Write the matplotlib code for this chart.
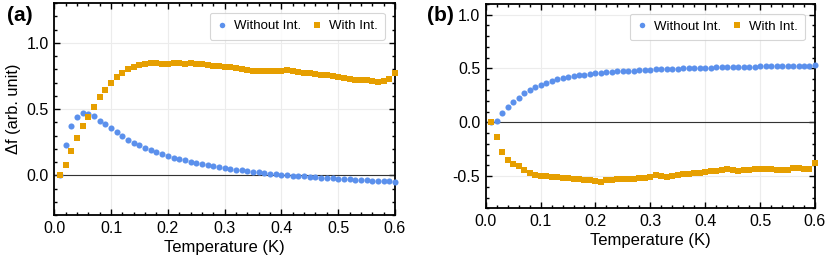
"""Frequency shift vs temperature, two panels."""

import os

os.environ.setdefault("MPLBACKEND", "Agg")
import matplotlib.pyplot as plt
from matplotlib.ticker import MultipleLocator
import numpy as np

plt.rcParams["font.family"] = ["Liberation Sans", "DejaVu Sans"]
plt.rcParams["axes.unicode_minus"] = False

temperature = np.round(np.arange(1, 61) * 0.01, 2)

# panel (a)
a_without = [
    0.0, 0.227, 0.37, 0.44, 0.47, 0.464, 0.444, 0.413, 0.385, 0.354,
    0.324, 0.296, 0.268, 0.247, 0.227, 0.207, 0.189, 0.174, 0.158, 0.145,
    0.133, 0.122, 0.112, 0.102, 0.093, 0.085, 0.077, 0.069, 0.062, 0.055,
    0.049, 0.043, 0.037, 0.032, 0.027, 0.022, 0.017, 0.013, 0.009, 0.005,
    0.001, -0.002, -0.006, -0.009, -0.012, -0.015, -0.018, -0.021, -0.024, -0.027,
    -0.029, -0.032, -0.034, -0.036, -0.039, -0.041, -0.043, -0.045, -0.047, -0.049,
]
a_with = [
    0.0, 0.074, 0.18, 0.28, 0.37, 0.44, 0.515, 0.59, 0.645, 0.70,
    0.74, 0.775, 0.80, 0.82, 0.83, 0.838, 0.845, 0.845, 0.842, 0.842,
    0.845, 0.845, 0.843, 0.845, 0.843, 0.838, 0.832, 0.828, 0.825, 0.82,
    0.815, 0.81, 0.805, 0.795, 0.785, 0.79, 0.79, 0.79, 0.79, 0.79,
    0.795, 0.787, 0.78, 0.775, 0.77, 0.765, 0.76, 0.755, 0.75, 0.745,
    0.735, 0.725, 0.72, 0.72, 0.72, 0.715, 0.705, 0.715, 0.725, 0.775,
]

# panel (b)
b_without = [
    0.0, 0.012, 0.084, 0.14, 0.19, 0.23, 0.268, 0.296, 0.324, 0.345,
    0.365, 0.383, 0.398, 0.41, 0.42, 0.428, 0.436, 0.443, 0.449, 0.455,
    0.46, 0.464, 0.468, 0.472, 0.475, 0.478, 0.481, 0.484, 0.486, 0.489,
    0.491, 0.493, 0.495, 0.497, 0.499, 0.501, 0.503, 0.504, 0.506, 0.507,
    0.509, 0.51, 0.511, 0.513, 0.514, 0.515, 0.516, 0.517, 0.518, 0.519,
    0.52, 0.521, 0.522, 0.523, 0.524, 0.525, 0.525, 0.526, 0.527, 0.528,
]
b_with = [
    0.0, -0.14, -0.28, -0.347, -0.385, -0.41, -0.44, -0.475, -0.494, -0.497,
    -0.50, -0.505, -0.51, -0.515, -0.52, -0.525, -0.53, -0.535, -0.54, -0.548,
    -0.556, -0.54, -0.535, -0.53, -0.527, -0.525, -0.525, -0.522, -0.52, -0.51,
    -0.495, -0.50, -0.505, -0.50, -0.495, -0.485, -0.478, -0.475, -0.472, -0.462,
    -0.456, -0.45, -0.44, -0.435, -0.445, -0.453, -0.448, -0.44, -0.435, -0.431,
    -0.432, -0.435, -0.44, -0.445, -0.447, -0.422, -0.425, -0.43, -0.432, -0.375,
]

series_labels = ["Without Int.", "With Int."]
panel_labels = ["(a)", "(b)"]
blue = "#5B90EC"
orange = "#E69F00"


def style_axes(ax, ylim):
    ax.set_xlim(0.0, 0.6)
    ax.set_ylim(*ylim)
    ax.xaxis.set_major_locator(MultipleLocator(0.1))
    ax.xaxis.set_minor_locator(MultipleLocator(0.02))
    ax.yaxis.set_major_locator(MultipleLocator(0.5))
    ax.yaxis.set_minor_locator(MultipleLocator(0.1))
    ax.xaxis.set_major_formatter(plt.FormatStrFormatter("%.1f"))
    ax.yaxis.set_major_formatter(plt.FormatStrFormatter("%.1f"))
    ax.tick_params(which="both", direction="in", top=True, right=True, labelsize=11.5, width=1.0)
    ax.tick_params(which="major", length=4.5, pad=4)
    ax.tick_params(which="minor", length=2.5)
    ax.grid(True, which="major", color="#ececec", linewidth=0.8)
    ax.set_axisbelow(True)
    for spine in ax.spines.values():
        spine.set_linewidth(1.3)
    ax.axhline(0.0, color="#333333", linewidth=0.8, zorder=1.5)
    ax.set_xlabel("Temperature (K)", fontsize=12, labelpad=3)


fig = plt.figure(figsize=(8.3, 2.64), dpi=100)
ax_a = fig.add_axes([0.0654, 0.1856, 0.4105, 0.803])
ax_b = fig.add_axes([0.5852, 0.211, 0.3967, 0.774])

for ax, without, with_int, ylim in [
    (ax_a, a_without, a_with, (-0.3, 1.3)),
    (ax_b, b_without, b_with, (-0.8, 1.1)),
]:
    style_axes(ax, ylim)
    ax.plot(temperature, without, "o", color=blue, markersize=4.4, markeredgewidth=0,
            label=series_labels[0], zorder=3, clip_on=False)
    ax.plot(temperature, with_int, "s", color=orange, markersize=4.4, markeredgewidth=0,
            label=series_labels[1], zorder=4, clip_on=False)
    leg = ax.legend(loc="upper right", ncol=2, fontsize=9.5, frameon=True, fancybox=True,
                    handletextpad=0.5, columnspacing=0.8, handlelength=0.8,
                    borderpad=0.55, markerscale=0.9, bbox_to_anchor=(0.99, 0.985))
    leg.get_frame().set_edgecolor("#cccccc")
    leg.get_frame().set_linewidth(0.8)

ax_a.set_ylabel("Δf (arb. unit)", fontsize=11.8, labelpad=4)
fig.text(0.008, 0.943, panel_labels[0], fontsize=15, fontweight="bold", va="center")
fig.text(0.514, 0.943, panel_labels[1], fontsize=15, fontweight="bold", va="center")

fig.savefig("out.png", dpi=100)
plt.close(fig)
